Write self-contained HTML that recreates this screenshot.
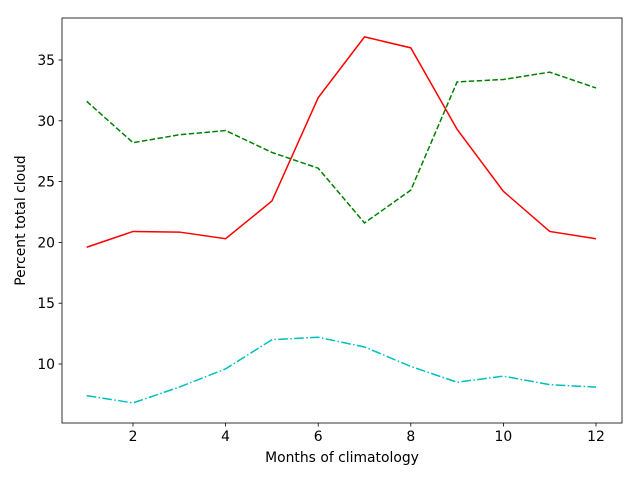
<!DOCTYPE html>
<html><head><meta charset="utf-8"><style>
body{margin:0;background:#fff;}
svg text{font-family:"DejaVu Sans","Liberation Sans",sans-serif;font-size:13.9px;fill:#000;}
</style></head><body>
<svg id="chart" width="640" height="480" xmlns="http://www.w3.org/2000/svg">
<rect x="0" y="0" width="640" height="480" fill="#fff"/>
<g id="plot"></g>
</svg>
<script>
const months=[1,2,3,4,5,6,7,8,9,10,11,12];
const seriesRed=[19.6,20.9,20.85,20.3,23.4,31.9,36.9,36.0,29.3,24.2,20.9,20.3];
const seriesGreen=[31.6,28.2,28.85,29.2,27.4,26.1,21.6,24.3,33.2,33.4,34.0,32.7];
const seriesCyan=[7.4,6.8,8.1,9.6,12.0,12.2,11.4,9.8,8.5,9.0,8.3,8.1];
const xTicks=[2,4,6,8,10,12];
const yTicks=[10,15,20,25,30,35];

const L=62,R=622,T=18,B=423;
const xs=v=>86.7+(v-1)*46.3;
const ys=v=>364-(v-10)*12.16;
const ns="http://www.w3.org/2000/svg";
const g=document.getElementById('plot');
function mk(tag,attrs){const e=document.createElementNS(ns,tag);for(const k in attrs)e.setAttribute(k,attrs[k]);g.appendChild(e);return e;}

function line(vals,color,dash,name){
  const p=mk('polyline',{points:months.map((m,i)=>xs(m)+','+ys(vals[i])).join(' '),fill:'none',stroke:color,'stroke-width':1.5,'stroke-dasharray':dash});
  
  
}
line(seriesRed,'#ff0000','none','series-red');
line(seriesGreen,'#008000','5.5,2.4','series-green');
line(seriesCyan,'#00bfbf','9.6,2.4,1.5,2.4','series-cyan');

const frame=mk('rect',{x:L,y:T,width:R-L,height:B-T,fill:'none',stroke:'#000','stroke-width':0.8});



xTicks.forEach(t=>{
  const x=xs(t);
  mk('line',{x1:x,y1:B,x2:x,y2:B+3.5,stroke:'#000','stroke-width':0.8});
  const tx=mk('text',{x:x,y:B+18,'text-anchor':'middle'});tx.textContent=t;
  
  
});
yTicks.forEach(t=>{
  const y=ys(t);
  mk('line',{x1:L-3.5,y1:y,x2:L,y2:y,stroke:'#000','stroke-width':0.8});
  const tx=mk('text',{x:L-7,y:y+5,'text-anchor':'end'});tx.textContent=t;
  
  
});
const xt=mk('text',{x:(L+R)/2,y:462,'text-anchor':'middle'});xt.textContent='Months of climatology';


const yt=mk('text',{x:25,y:(T+B)/2,'text-anchor':'middle',transform:'rotate(-90 25 '+((T+B)/2)+')'});yt.textContent='Percent total cloud';


</script>
</body></html>
